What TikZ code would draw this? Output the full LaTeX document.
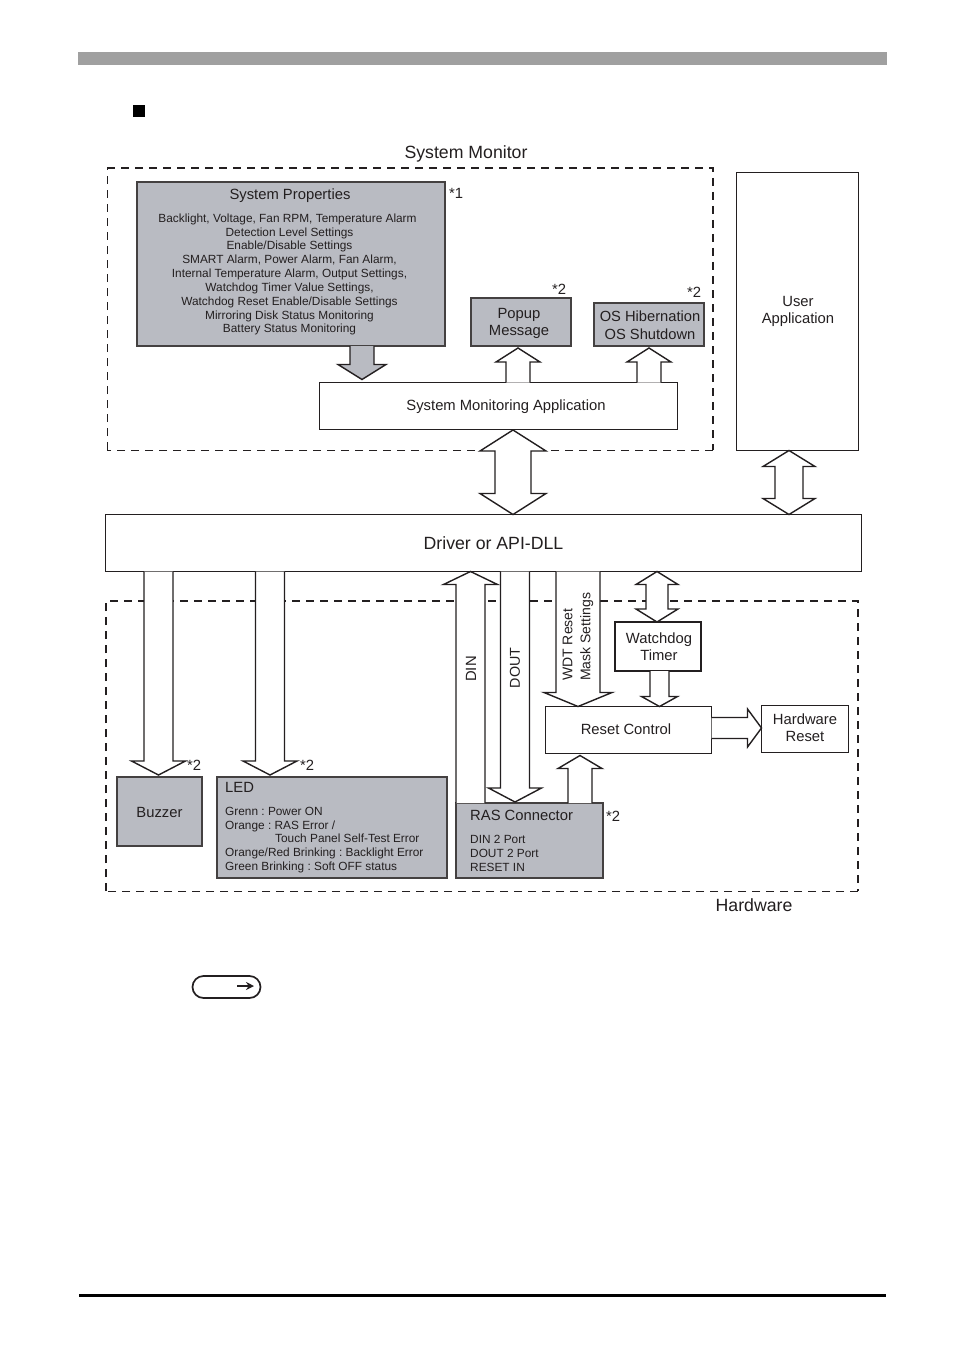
\documentclass[tikz,border=0pt]{standalone}
\usepackage{fontspec}
\setmainfont{Liberation Sans}
\usetikzlibrary{calc,arrows.meta}
\definecolor{ink}{HTML}{231F20}
\definecolor{panel}{HTML}{B9BBC2}
\definecolor{barc}{HTML}{A0A0A0}
\newcommand{\fsL}{\fontsize{17.7}{18}\selectfont\frenchspacing}
\newcommand{\fsM}{\fontsize{14.8}{17}\selectfont\frenchspacing}
\newcommand{\fsS}{\fontsize{11.85}{13.85}\selectfont\frenchspacing}
\tikzset{
  lbl/.style={text=ink,inner sep=0pt,align=center},
  lbll/.style={text=ink,inner sep=0pt,align=left,anchor=west},
  plainbox/.style={draw=ink,fill=white,line width=1.3pt,inner sep=0pt,outer sep=0pt,anchor=north west},
  greybox/.style={draw=ink!85,fill=panel,line width=1.8pt,inner sep=0pt,outer sep=0pt,anchor=north west},
  heavybox/.style={draw=ink,fill=white,line width=1.9pt,inner sep=0pt,outer sep=0pt,anchor=north west},
  regionthin/.style={draw=ink,line width=1pt,dash pattern=on 8pt off 6pt},
  regionthick/.style={draw=ink,line width=1.7pt,dash pattern=on 8pt off 6pt},
  blockw/.style={draw=ink,fill=white,line width=1.4pt,line join=miter},
  blockg/.style={draw=ink,fill=panel,line width=1.4pt,line join=miter}
}
% style, from, to, shaft half-width, head half-width, head length
\newcommand{\onearrow}[6]{%
  \coordinate (A) at (#2);\coordinate (B) at (#3);
  \coordinate (N) at ($(B)!#6pt!(A)$);
  \draw[#1] ($(A)!#4pt!90:(B)$) -- ($(N)!#4pt!90:(B)$) -- ($(N)!#5pt!90:(B)$) -- (B)
    -- ($(N)!-#5pt!90:(B)$) -- ($(N)!-#4pt!90:(B)$) -- ($(A)!-#4pt!90:(B)$);}
% style, from, to, shaft half, head half, head length at from, head length at to
\newcommand{\twoarrow}[7]{%
  \coordinate (A) at (#2);\coordinate (B) at (#3);
  \coordinate (N) at ($(B)!#7pt!(A)$);\coordinate (M) at ($(A)!#6pt!(B)$);
  \draw[#1] (A) -- ($(M)!#5pt!90:(B)$) -- ($(M)!#4pt!90:(B)$) -- ($(N)!#4pt!90:(B)$) -- ($(N)!#5pt!90:(B)$) -- (B)
    -- ($(N)!-#5pt!90:(B)$) -- ($(N)!-#4pt!90:(B)$) -- ($(M)!-#4pt!90:(B)$) -- ($(M)!-#5pt!90:(B)$) -- cycle;}
\begin{document}
\begin{tikzpicture}[x=1pt,y=-1pt]
\useasboundingbox (0,0) rectangle (954,1348);
\fill[white] (0,0) rectangle (954,1348);
% page furniture
\fill[barc] (78,52) rectangle (887,65);
\fill[black] (79,1294) rectangle (886,1297);
\fill[black] (133,105) rectangle (145,117);
% regions
\draw[regionthin] (107,450) -- (107,168);
\draw[regionthick] (107,168) -- (713,168) -- (713,450);
\draw[regionthin] (713,450) -- (107,450);
\draw[regionthick] (106,891) -- (106,601) -- (858,601) -- (858,891);
\draw[regionthin] (858,891) -- (106,891);
% boxes
\node[greybox,minimum width=308pt,minimum height=164pt] (sp) at (137,182) {};
\node[greybox,minimum width=100pt,minimum height=48pt] (popup) at (471,298) {};
\node[greybox,minimum width=110pt,minimum height=43pt] (os) at (594,303) {};
\node[plainbox,minimum width=358pt,minimum height=47pt] (sma) at (319.5,382.5) {};
\node[plainbox,minimum width=122pt,minimum height=278pt] (user) at (736.5,172.5) {};
\node[plainbox,minimum width=756pt,minimum height=57pt] (drv) at (105.5,514.5) {};
\node[heavybox,minimum width=86pt,minimum height=49pt] (wd) at (615,622) {};
\node[plainbox,minimum width=166pt,minimum height=47pt] (rst) at (545.5,706.5) {};
\node[plainbox,minimum width=87pt,minimum height=47pt] (hw) at (761.5,705.5) {};
\node[greybox,minimum width=85pt,minimum height=69pt] (buz) at (117,777) {};
\node[greybox,minimum width=230pt,minimum height=101pt] (led) at (217,777) {};
\node[greybox,minimum width=147pt,minimum height=75pt] (ras) at (456,803) {};
% block arrows
\onearrow{blockg}{362,0 |- sp.south}{$(362,0 |- sma.north)+(0,-3)$}{12}{24}{15}
\onearrow{blockw}{518,0 |- sma.north}{518,348}{12}{22}{14}
\onearrow{blockw}{649,0 |- sma.north}{649,348}{12}{22}{14}
\twoarrow{blockw}{513,430}{513,0 |- drv.north}{18}{33}{21}{21}
\twoarrow{blockw}{789,0 |- user.south}{789,0 |- drv.north}{14}{26}{16}{16}
\onearrow{blockw}{158.5,0 |- drv.south}{$(158.5,0 |- buz.north)+(0,-2)$}{14.5}{27}{14}
\onearrow{blockw}{270,0 |- drv.south}{$(270,0 |- led.north)+(0,-2)$}{14.5}{27}{14}
\onearrow{blockw}{470.5,0 |- ras.north}{470.5,0 |- drv.south}{14.5}{27}{13}
\onearrow{blockw}{515,0 |- drv.south}{$(515,0 |- ras.north)+(0,-1)$}{14.5}{26.5}{14}
\onearrow{blockw}{578,0 |- drv.south}{578,0 |- rst.north}{22}{34}{14}
\twoarrow{blockw}{657,0 |- drv.south}{657,0 |- wd.north}{11}{21}{13}{13}
\onearrow{blockw}{659.5,0 |- wd.south}{659.5,0 |- rst.north}{9.5}{18}{10}
\onearrow{blockw}{580,0 |- ras.north}{$(580,0 |- rst.south)+(0,2)$}{12}{22}{13}
\onearrow{blockw}{rst.east |- 0,728}{hw.west |- 0,728}{10.5}{19}{14}
% labels
\node[lbl,font=\fsL] (t1) at (466,154) {System Monitor};
\node[lbl,font=\fsL] (t2) at (754,905) {Hardware};
\node[lbl,font=\fsL] (t3) at (493.5,543) {Driver or API-DLL};
\node[lbl,font=\fsM] (t4) at (290,196) {System Properties};
\node[lbl,font=\fsS] (t5) at (289.5,274.5) {\hspace*{-4pt}Backlight, Voltage, Fan RPM, Temperature Alarm\\Detection Level Settings\\Enable/Disable Settings\\SMART Alarm, Power Alarm, Fan Alarm,\\Internal Temperature Alarm, Output Settings,\\Watchdog Timer Value Settings,\\Watchdog Reset Enable/Disable Settings\\Mirroring Disk Status Monitoring\\Battery Status Monitoring};
\node[lbl,font=\fsM] (t6) at (519,323) {Popup\\Message};
\node[lbl,font=\fontsize{14.7}{18}\selectfont] (t7) at (650,325) {OS Hibernation\\OS Shutdown};
\node[lbl,font=\fsM] (t8) at (506,407) {System Monitoring Application};
\node[lbl,font=\fsM] (t9) at (798,311.5) {User\\Application};
\node[lbl,font=\fsM] (t10) at (659,647) {Watchdog\\Timer};
\node[lbl,font=\fsM] (t11) at (626,729) {Reset Control};
\node[lbl,font=\fsM] (t12) at (805,728) {Hardware\\Reset};
\node[lbl,font=\fsM] (t13) at (159.5,812) {Buzzer};
\node[lbll,font=\fsM] (t14) at (225,787) {LED};
\node[lbll,font=\fsS] (t15) at (225,840) {Grenn : Power ON\\Orange : RAS Error /\\\hspace*{50pt}Touch Panel Self-Test Error\\Orange/Red Brinking : Backlight Error\\Green Brinking : Soft OFF status};
\node[lbll,font=\fsM] (t16) at (470,815) {RAS Connector};
\node[lbll,font=\fsS] (t17) at (470,853.5) {DIN 2 Port\\DOUT 2 Port\\RESET IN};
\node[lbl,font=\fsM,rotate=90] (t18) at (471,669) {DIN};
\node[lbl,font=\fontsize{14.3}{17}\selectfont,rotate=90] (t19) at (515,668) {DOUT};
\node[lbll,font=\fontsize{14}{18}\selectfont,rotate=90] (t20) at (578,681) {WDT Reset\\Mask Settings};
\node[lbl,font=\fsM] (s1) at (456,193) {*1};
\node[lbl,font=\fsM] (s2) at (559,289) {*2};
\node[lbl,font=\fsM] (s3) at (694,292) {*2};
\node[lbl,font=\fsM] (s4) at (194,765) {*2};
\node[lbl,font=\fsM] (s5) at (307,765) {*2};
\node[lbl,font=\fsM] (s6) at (613,816) {*2};
% key symbol
\node[draw=ink,line width=1.7pt,rounded corners=11pt,minimum width=68pt,minimum height=22pt,inner sep=0pt] (key) at (226.5,987) {};
\coordinate (k1) at (237,986);\coordinate (k2) at (254,986);
\draw[ink,line width=2pt,-{Stealth[length=8pt,width=8pt]}] (k1) -- (k2);
\end{tikzpicture}
\end{document}
